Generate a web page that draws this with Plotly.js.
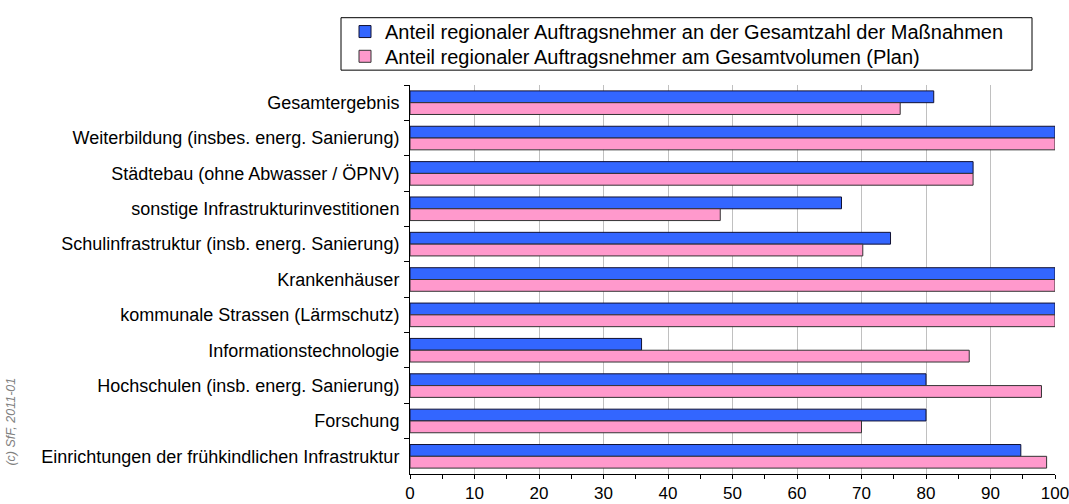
<!DOCTYPE html>
<html>
<head>
<meta charset="utf-8">
<script src="https://cdn.plot.ly/plotly-3.0.1.min.js"></script>
<style>html,body{margin:0;padding:0;background:#fff;}#chart{width:1069px;height:504px;}</style>
</head>
<body>
<div id="chart"></div>
<script>
const categories = [
  'Gesamtergebnis',
  'Weiterbildung (insbes. energ. Sanierung)',
  'Städtebau (ohne Abwasser / ÖPNV)',
  'sonstige Infrastrukturinvestitionen',
  'Schulinfrastruktur (insb. energ. Sanierung)',
  'Krankenhäuser',
  'kommunale Strassen (Lärmschutz)',
  'Informationstechnologie',
  'Hochschulen (insb. energ. Sanierung)',
  'Forschung',
  'Einrichtungen der frühkindlichen Infrastruktur'
];
const anteilMassnahmen = [81.2, 100, 87.3, 66.9, 74.5, 100, 100, 35.9, 80, 80, 94.7];
const anteilVolumen = [76.0, 100, 87.3, 48.1, 70.2, 100, 100, 86.7, 97.9, 70, 98.7];
const seriesNames = [
  'Anteil regionaler Auftragsnehmer an der Gesamtzahl der Maßnahmen',
  'Anteil regionaler Auftragsnehmer am Gesamtvolumen (Plan)'
];
const xTicks = [0, 10, 20, 30, 40, 50, 60, 70, 80, 90, 100];

const W = 1069, H = 504;
const m = {l: 410, r: 14, t: 81, b: 30};
const pw = W - m.l - m.r, ph = H - m.t - m.b;
const px2x = p => (p - m.l) / pw;
const px2y = p => (H - m.b - p) / ph;

const traces = [
  {type: 'bar', orientation: 'h', y: categories, x: anteilMassnahmen, name: seriesNames[0],
   legend: 'legend',
   marker: {color: '#3366FF', line: {color: '#111133', width: 1}}},
  {type: 'bar', orientation: 'h', y: categories, x: anteilVolumen, name: seriesNames[1],
   legend: 'legend2',
   marker: {color: '#FF99CC', line: {color: '#333333', width: 1}}}
];

const legendBase = {
  xanchor: 'left', yanchor: 'middle',
  bgcolor: 'rgba(0,0,0,0)', borderwidth: 0,
  font: {size: 20, color: '#000'}
};

const layout = {
  width: W, height: H,
  margin: m,
  paper_bgcolor: '#fff', plot_bgcolor: '#fff',
  font: {family: '"Liberation Sans", Arial, sans-serif', size: 18, color: '#000'},
  barmode: 'group', bargap: 0.333, bargroupgap: 0,
  showlegend: true,
  legend: Object.assign({}, legendBase, {x: px2x(345), y: px2y(27)}),
  legend2: Object.assign({}, legendBase, {x: px2x(345), y: px2y(52)}),
  xaxis: {
    range: [0, 100], tickvals: xTicks, ticktext: xTicks.map(String),
    showgrid: true, gridcolor: '#C0C0C0', gridwidth: 1,
    zeroline: false, showline: true, linecolor: '#000', linewidth: 1,
    ticks: 'outside', ticklen: 4, tickcolor: '#000',
    minor: {dtick: 5, ticks: 'outside', ticklen: 4, tickcolor: '#000', showgrid: false},
    tickfont: {size: 17}, ticklabeloverflow: 'allow', fixedrange: true
  },
  yaxis: {
    type: 'category', categoryorder: 'array', categoryarray: categories,
    autorange: 'reversed',
    showline: true, linecolor: '#000', linewidth: 1,
    ticks: 'outside', ticklen: 5, tickcolor: '#000', tickson: 'boundaries',
    showgrid: false, tickfont: {size: 18}, ticklabelstandoff: 6, fixedrange: true
  },
  shapes: [
    {type: 'rect', xref: 'paper', yref: 'paper',
     x0: px2x(341), x1: px2x(1032), y0: px2y(66), y1: px2y(13),
     line: {color: '#000', width: 1}, fillcolor: 'rgba(0,0,0,0)'}
  ],
  annotations: [
    {xref: 'paper', yref: 'paper', x: px2x(11), y: px2y(421), xanchor: 'center', yanchor: 'middle',
     text: '(c) SfF, 2011-01', textangle: -90, showarrow: false,
     font: {size: 12.5, color: '#808080', style: 'italic'}}
  ]
};

Plotly.newPlot('chart', traces, layout, {displayModeBar: false, staticPlot: true});
</script>
</body>
</html>
